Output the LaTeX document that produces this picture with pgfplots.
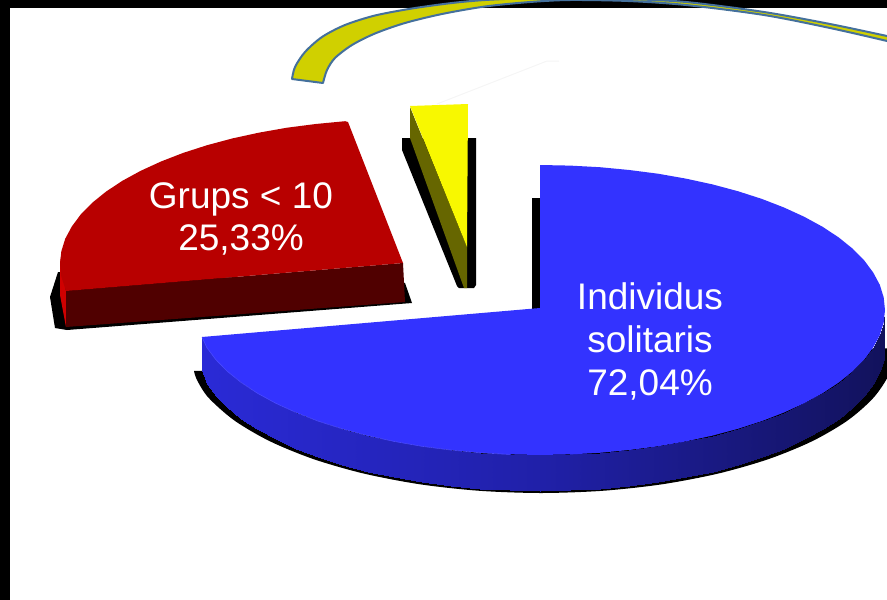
\documentclass[border=0pt]{standalone}
\usepackage{pgfplots}
\pgfplotsset{compat=1.18}
\usepackage{fontspec}
\setmainfont{Liberation Sans}
\definecolor{bluetop}{HTML}{3333FF}
\definecolor{blueedge}{HTML}{4A4AFF}
\definecolor{redtop}{HTML}{B80000}
\definecolor{reddark}{HTML}{500000}
\definecolor{redlight}{HTML}{D00000}
\definecolor{yel}{HTML}{F8F800}
\definecolor{olive2}{HTML}{666600}
\definecolor{arcy}{HTML}{D0D000}
\definecolor{arce}{HTML}{44709C}
\begin{document}
\begin{tikzpicture}
\begin{axis}[
  scale only axis, width=887pt, height=600pt,
  xmin=0, xmax=887, ymin=0, ymax=600, y dir=reverse,
  hide axis, clip=true, axis on top=false,
  colormap={sidegrad}{rgb255=(42,42,214) rgb255=(32,32,168) rgb255=(18,18,92)},
]
% frame
\addplot[fill=black,draw=none] coordinates {(0,0)(887,0)(887,8)(0,8)} -- cycle;
\addplot[fill=black,draw=none] coordinates {(0,0)(10,0)(10,600)(0,600)} -- cycle;
% arc
\addplot[fill=arcy,draw=none] coordinates {
(910,41)(887,36)(830,24)(764,12)(686,2)(628,-1)(574,-3)(530,-2)(485,0)(452,3)(412,8.5)(375,15.5)(345,25)(322,37)(305,52)(295,67)(292,79)(323,83)(327,70)(335,58)(352,45)(375,33.5)(405,23)(442,14)(485,6.5)(530,2)(570,0)(628,1)(686,5)(764,15)(830,28)(887,41)(910,47)} -- cycle;
\addplot[draw=arce,line width=2pt,smooth] coordinates {(910,41)(887,36)(830,24)(764,12)(686,2)(628,-1)(574,-3)(530,-2)(485,0)(452,3)(412,8.5)(375,15.5)(345,25)(322,37)(305,52)(295,67)(292,79)};
\addplot[draw=arce,line width=2pt,smooth] coordinates {(323,83)(327,70)(335,58)(352,45)(375,33.5)(405,23)(442,14)(485,6.5)(530,2)(570,0)(628,1)(686,5)(764,15)(830,28)(887,41)(910,47)};
\addplot[draw=arce,line width=2pt,line cap=round] coordinates {(292,79)(323,83)};
% faint line
\addplot[draw=black!4,line width=1pt] coordinates {(437,104)(547,61)(559,61)};
% red slice shadow
\addplot[fill=black,draw=none] coordinates {(58,272)(50,297)(55,328)(67,330)(412,303)(405,283)} -- cycle;
% red slice
\addplot[fill=redlight,draw=none] coordinates {(60,257)(60,295)(66,327)(66,291)} -- cycle;
\addplot[fill=reddark,draw=none] coordinates {(66,291)(403,263)(405,302)(66,327)} -- cycle;
\addplot[fill=redtop,draw=none] coordinates {(348,122)(345.1,121.2)(315.7,124)(287,127.7)(259.2,132.6)(232.5,138.4)(207.1,145.2)(183.2,152.9)(161,161.5)(140.7,170.8)(122.4,180.8)(106.2,191.5)(92.3,202.7)(80.8,214.4)(71.8,226.5)(65.2,238.8)(61.3,251.4)(60,264)(61.3,276.6)(66,291)(403,263)} -- cycle;
% yellow slice shadow
\addplot[fill=black,draw=none] coordinates {(402,138)(476,138)(476,285)(474,288)(459,288)(457,286)(402,150)} -- cycle;
% yellow slice
\addplot[fill=olive2,draw=none] coordinates {(410,107)(467,247)(467,288)(464,288)(410,138)} -- cycle;
\addplot[fill=yel,draw=none] coordinates {(410,106)(468,104)(467,247)} -- cycle;
% blue strip shadow
\addplot[fill=black,draw=none] coordinates {(532,198)(541,198)(541,310)(532,310)} -- cycle;
% blue shadow
\addplot[fill=black,draw=none,smooth] coordinates {(895,348)(889.6,373.2)(873.6,397.6)(847.6,420.5)(812.2,441.2)(768.5,459.1)(718,473.6)(662,484.3)(602.5,490.8)(541,493)(479.5,490.8)(420,484.3)(364,473.6)(313.5,459.1)(269.8,441.2)(234.4,420.5)(208.4,397.6)(197,380)(194,371)};
% blue side
\addplot[patch,patch type=rectangle,shader=interp,point meta=x] coordinates {
(885,310)(883.7,322.6)(883.7,358.6)(885,346)
(883.7,322.6)(879.8,335.2)(879.8,371.2)(883.7,358.6)
(879.8,335.2)(873.2,347.5)(873.2,383.5)(879.8,371.2)
(873.2,347.5)(864.2,359.6)(864.2,395.6)(873.2,383.5)
(864.2,359.6)(852.7,371.3)(852.7,407.3)(864.2,395.6)
(852.7,371.3)(838.8,382.5)(838.8,418.5)(852.7,407.3)
(838.8,382.5)(822.6,393.2)(822.6,429.2)(838.8,418.5)
(822.6,393.2)(804.3,403.2)(804.3,439.2)(822.6,429.2)
(804.3,403.2)(784,412.5)(784,448.5)(804.3,439.2)
(784,412.5)(761.8,421.1)(761.8,457.1)(784,448.5)
(761.8,421.1)(737.9,428.8)(737.9,464.8)(761.8,457.1)
(737.9,428.8)(712.5,435.6)(712.5,471.6)(737.9,464.8)
(712.5,435.6)(685.8,441.4)(685.8,477.4)(712.5,471.6)
(685.8,441.4)(658,446.3)(658,482.3)(685.8,477.4)
(658,446.3)(629.3,450)(629.3,486)(658,482.3)
(629.3,450)(599.9,452.8)(599.9,488.8)(629.3,486)
(599.9,452.8)(570.1,454.4)(570.1,490.4)(599.9,488.8)
(570.1,454.4)(540,455)(540,491)(570.1,490.4)
(540,455)(509.9,454.4)(509.9,490.4)(540,491)
(509.9,454.4)(480.1,452.8)(480.1,488.8)(509.9,490.4)
(480.1,452.8)(450.7,450)(450.7,486)(480.1,488.8)
(450.7,450)(422,446.3)(422,482.3)(450.7,486)
(422,446.3)(394.2,441.4)(394.2,477.4)(422,482.3)
(394.2,441.4)(367.5,435.6)(367.5,471.6)(394.2,477.4)
(367.5,435.6)(342.1,428.8)(342.1,464.8)(367.5,471.6)
(342.1,428.8)(318.2,421.1)(318.2,457.1)(342.1,464.8)
(318.2,421.1)(296,412.5)(296,448.5)(318.2,457.1)
(296,412.5)(275.7,403.2)(275.7,439.2)(296,448.5)
(275.7,403.2)(257.4,393.2)(257.4,429.2)(275.7,439.2)
(257.4,393.2)(241.2,382.5)(241.2,418.5)(257.4,429.2)
(241.2,382.5)(227.3,371.3)(227.3,407.3)(241.2,418.5)
(227.3,371.3)(215.8,359.6)(215.8,395.6)(227.3,407.3)
(215.8,359.6)(206.8,347.5)(206.8,383.5)(215.8,395.6)
(206.8,347.5)(202,337)(202,370)(206.8,383.5)
};
% blue top
\addplot[fill=bluetop,draw=none] coordinates {
(540,308)(540,165)(570.1,165.6)(599.9,167.2)(629.3,170)(658,173.7)(685.8,178.6)(712.5,184.4)(737.9,191.2)(761.8,198.9)(784,207.5)(804.3,216.8)(822.6,226.8)(838.8,237.5)(852.7,248.7)(864.2,260.4)(873.2,272.5)(879.8,284.8)(883.7,297.4)(885,310)(883.7,322.6)(879.8,335.2)(873.2,347.5)(864.2,359.6)(852.7,371.3)(838.8,382.5)(822.6,393.2)(804.3,403.2)(784,412.5)(761.8,421.1)(737.9,428.8)(712.5,435.6)(685.8,441.4)(658,446.3)(629.3,450)(599.9,452.8)(570.1,454.4)(540,455)(509.9,454.4)(480.1,452.8)(450.7,450)(422,446.3)(394.2,441.4)(367.5,435.6)(342.1,428.8)(318.2,421.1)(296,412.5)(275.7,403.2)(257.4,393.2)(241.2,382.5)(227.3,371.3)(215.8,359.6)(206.8,347.5)(202,337)} -- cycle;
\addplot[draw=blueedge,line width=0.6pt] coordinates {(202,337)(206.8,347.5)(215.8,359.6)(227.3,371.3)(241.2,382.5)(257.4,393.2)(275.7,403.2)(296,412.5)(318.2,421.1)(342.1,428.8)(367.5,435.6)(394.2,441.4)(422,446.3)(450.7,450)(480.1,452.8)(509.9,454.4)};
% labels
\node[anchor=base,text=white,font=\fontsize{37pt}{42pt}\selectfont] at (axis cs:241,208) {Grups < 10};
\node[anchor=base,text=white,font=\fontsize{37pt}{42pt}\selectfont] at (axis cs:241,250) {25,33\%};
\node[anchor=base,text=white,font=\fontsize{37pt}{42pt}\selectfont] at (axis cs:650,309) {Individus};
\node[anchor=base,text=white,font=\fontsize{37pt}{42pt}\selectfont] at (axis cs:650,352) {solitaris};
\node[anchor=base,text=white,font=\fontsize{37pt}{42pt}\selectfont] at (axis cs:650,395) {72,04\%};
\end{axis}
\end{tikzpicture}
\end{document}
